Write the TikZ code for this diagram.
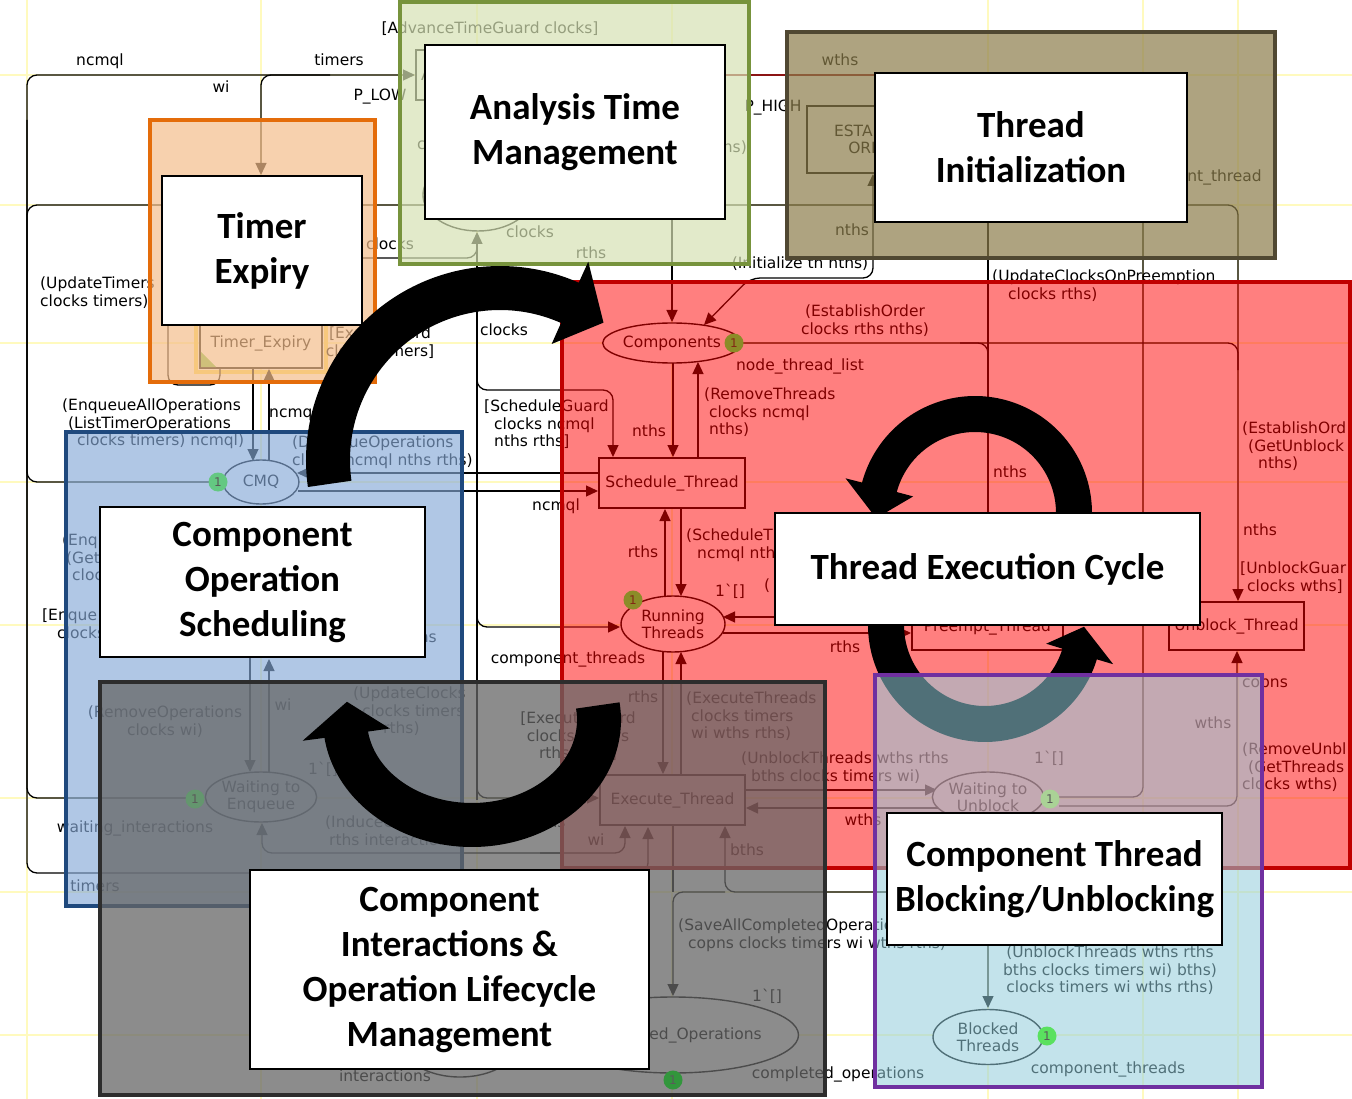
\documentclass[tikz,border=0pt]{standalone}
\usepackage{fontspec}
\usetikzlibrary{shapes.geometric,arrows.meta}
\newfontfamily\netfont{DejaVu Sans}
\newfontfamily\boxfont{Carlito}

\definecolor{gridY}{RGB}{255,250,190}
\definecolor{pRed}{RGB}{255,0,0}
\definecolor{bRed}{RGB}{192,0,0}
\definecolor{pBlue}{RGB}{135,170,216}
\definecolor{bBlue}{RGB}{31,73,125}
\definecolor{pOrange}{RGB}{245,190,140}
\definecolor{bOrange}{RGB}{228,108,10}
\definecolor{pGreen}{RGB}{214,226,180}
\definecolor{bGreen}{RGB}{119,147,60}
\definecolor{pOlive}{RGB}{140,125,75}
\definecolor{bOlive}{RGB}{80,72,50}
\definecolor{pGray}{RGB}{102,102,102}
\definecolor{bGray}{RGB}{45,45,45}
\definecolor{pPurple}{RGB}{147,205,220}
\definecolor{bPurple}{RGB}{112,48,160}
\definecolor{darkRed}{RGB}{140,20,20}
\definecolor{hiYellow}{RGB}{255,225,90}
\definecolor{enGreen}{RGB}{120,200,80}
\definecolor{tokOlive}{RGB}{140,140,40}
\definecolor{tokCMQ}{RGB}{100,200,130}
\definecolor{tokWTE}{RGB}{100,150,110}
\definecolor{tokWTU}{RGB}{170,210,150}
\definecolor{tokBT}{RGB}{90,225,95}
\definecolor{tokCO}{RGB}{50,150,60}
\definecolor{tokTxt}{RGB}{90,90,90}
\definecolor{tokTxtR}{RGB}{130,40,20}

% #1 cx, #2 cy, #3 rx, #4 ry, #5 half thickness, #6 start angle, #7 end angle, #8 head half width, #9 tip angle offset
\newcommand{\bigarc}[9]{%
  \fill[black] plot[domain=0:1,samples=90] ({#1+(#3+#5)*cos((#6)+\x*((#7)-(#6)))},{#2+(#4+#5)*sin((#6)+\x*((#7)-(#6)))})
    -- ({#1+(#3+#8)*cos(#7)},{#2+(#4+#8)*sin(#7)})
    -- ({#1+(#3)*cos((#7)+(#9))},{#2+(#4)*sin((#7)+(#9))})
    -- ({#1+(#3-#8)*cos(#7)},{#2+(#4-#8)*sin(#7)})
    -- plot[domain=0:1,samples=90] ({#1+(#3-#5)*cos((#7)+\x*((#6)-(#7)))},{#2+(#4-#5)*sin((#7)+\x*((#6)-(#7)))})
    -- cycle;}

\begin{document}
\begin{tikzpicture}[x=1pt,y=-1pt,
  lab/.style={font=\netfont\fontsize{15.5}{17.2}\selectfont, inner sep=0pt},
  l1/.style={lab, anchor=base},
  lw/.style={lab, anchor=base west},
  le/.style={lab, anchor=base east},
  ml/.style={lab, align=left, anchor=north west},
  mc/.style={lab, align=center, anchor=north},
  place/.style={ellipse, draw, fill=white, line width=1.4pt, inner sep=0pt, align=center, font=\netfont\fontsize{15.5}{17.2}\selectfont},
  trans/.style={rectangle, draw, fill=white, line width=1.4pt, inner sep=0pt, align=center, font=\netfont\fontsize{15.5}{17.2}\selectfont},
  token/.style={circle, inner sep=0pt, minimum size=19pt, font=\netfont\fontsize{12}{12}\selectfont},
  nl/.style={line width=1.3pt, rounded corners=10pt},
  na/.style={nl, -{Triangle[length=12pt,width=11pt]}},
  nab/.style={nl, {Triangle[length=12pt,width=11pt]}-{Triangle[length=12pt,width=11pt]}},
  region/.style={line width=3.5pt},
  bigbox/.style={draw=black, line width=2pt, fill=white, inner sep=0pt, align=center, font=\boxfont\bfseries\fontsize{37}{45}\selectfont},
]
\useasboundingbox (0,0) rectangle (1352,1099);
\fill[white] (0,0) rectangle (1352,1099);

% faint grid
\foreach \gx in {27,261,477,672,988,1143,1238} \draw[gridY, line width=1.2pt] (\gx,0) -- (\gx,1099);
\foreach \gy in {75,205,343,482,625,798,892,1035} \draw[gridY, line width=1.2pt] (0,\gy) -- (1352,\gy);

% enabled highlight of Timer_Expiry
\draw[hiYellow, line width=4pt] (196,314) rectangle (326,372);

% ---------- connectors ----------
\draw[na] (209,482) -- (27,482) -- (27,75) -- (415,75);
\draw[na] (330,75) -- (261,75) -- (261,175);
\draw[nl] (875,205) -- (27,205) -- (27,798) -- (186,798);
\draw[na] (27,120) -- (27,873) -- (648,873) -- (648,827);
\draw[nl, darkRed] (725,75) -- (875,75);
\draw[na] (477,800) -- (477,232);
\draw[na] (477,360) -- (477,390) -- (613,390) -- (613,457);
\draw[na] (477,600) -- (477,627) -- (620,627);
\draw[na] (477,770) -- (477,798) -- (599,798);
\draw[nl] (477,240) -- (477,258) -- (330,258);
\draw[na] (598,473) -- (297,473);
\draw[na] (298,491) -- (598,491);
\draw[na] (253,369) -- (253,461);
\draw[na] (269,461) -- (269,369);
\draw[na] (673,363) -- (673,457);
\draw[na] (698,458) -- (698,362);
\draw[na] (672,219) -- (672,322);
\draw[nab] (873,174) -- (873,278) -- (750,278) -- (704,325);
\draw[nl] (742,343) -- (1238,343) -- (1238,370);
\draw[na] (1150,205) -- (1238,205) -- (1238,601);
\draw[na] (988,222) -- (988,604);
\draw[nl] (960,343) -- (988,343) -- (988,370);
\draw[nl] (1143,222) -- (1143,797) -- (1059,797);
\draw[na] (1059,806) -- (1237,806) -- (1237,651);
\draw[na] (681,508) -- (681,596);
\draw[na] (665,597) -- (665,509);
\draw[na] (663,652) -- (663,774);
\draw[na] (681,775) -- (681,652);
\draw[na] (911,617) -- (723,617);
\draw[na] (723,633) -- (911,633);
\draw[na] (746,790) -- (937,790);
\draw[na] (940,808) -- (746,808);
\draw[na] (560,853) -- (262,853) -- (262,823);
\draw[na] (540,853) -- (625,853) -- (625,826);
\draw[na] (880,892) -- (725,892) -- (725,826);
\draw[na] (725,892) -- (673,892) -- (673,996);
\draw[nl] (673,825) -- (673,892);
\draw[na] (880,892) -- (988,892) -- (988,1008);
\draw[na] (250,658) -- (250,772);
\draw[na] (269,772) -- (269,659);
\draw[nl] (168,320) -- (168,385) -- (220,385) -- (220,369);

% ---------- places ----------
\node[place, minimum width=112pt, minimum height=40pt] (comp) at (672,343) {Components};
\node[place, minimum width=76pt, minimum height=44pt] (cmq) at (261,482) {CMQ};
\node[place, minimum width=104pt, minimum height=56pt] (run) at (673,624) {Running\\Threads};
\node[place, minimum width=104pt, minimum height=50pt] (wte) at (261,797) {Waiting to\\Enqueue};
\node[place, minimum width=104pt, minimum height=50pt] (wtu) at (988,797) {Waiting to\\Unblock};
\node[place, minimum width=110pt, minimum height=55pt] (blk) at (988,1037) {Blocked\\Threads};
\node[place, minimum width=204pt, minimum height=76pt] (cop) at (673,1035) {Completed\_Operations};
\node[place, minimum width=120pt, minimum height=74pt] (inter) at (460,1040) {};
\node[place, minimum width=110pt, minimum height=72pt] (clk) at (478,195) {};

% ---------- transitions ----------
\node[trans, minimum width=146pt, minimum height=50pt] (sch) at (672,483) {Schedule\_Thread};
\node[trans, minimum width=145pt, minimum height=50pt] (exe) at (672.5,800) {Execute\_Thread};
\node[trans, minimum width=151pt, minimum height=45pt] (pre) at (987.5,627.5) {Preempt\_Thread};
\node[trans, minimum width=135pt, minimum height=48pt] (unb) at (1236.5,626) {Unblock\_Thread};
\node[trans, minimum width=122pt, minimum height=50pt] (tex) at (261,343) {Timer\_Expiry};
\node[trans, minimum width=138pt, minimum height=67pt] (est) at (876,139.5) {ESTABLISH\\ORDER};
\node[trans, minimum width=144pt, minimum height=50pt] (adv) at (488,75) {};
\fill[enGreen] (201,367) -- (216,367) -- (201,352) -- cycle;

% ---------- inscriptions ----------
\node[l1] (t1) at (100,66) {ncmql};
\node[l1] (t2) at (339,66) {timers};
\node[l1] (t3) at (221,93) {wi};
\node[l1] (t4) at (380,101) {P\_LOW};
\node[l1] (t5) at (490,34) {[AdvanceTimeGuard clocks]};
\node[lw] (t6) at (421,81) {AdvanceTime};
\node[lw] (t7) at (417,150) {clocks};
\node[le] (t8) at (747,153) {rths)};
\node[l1] (t9) at (390,250) {clocks};
\node[l1] (t10) at (530,238) {clocks};
\node[l1] (t11) at (591,259) {rths};
\node[l1] (t12) at (773,112) {P\_HIGH};
\node[l1] (t13) at (840,66) {wths};
\node[l1] (t14) at (852,236) {nths};
\node[le] (t15) at (1262,182) {nt\_thread};
\node[l1] (t16) at (800,269) {(Initialize th nths)};
\node[ml] (t17) at (40,277) {(UpdateTimers\\clocks timers)};
\node[mc] (t18) at (380,327) {[ExpireGuard\\clocks timers]};
\node[ml] (t19) at (992,270) {(UpdateClocksOnPreemption\\\hspace*{16pt}clocks rths)};
\node[mc] (t20) at (865,305) {(EstablishOrder\\clocks rths nths)};
\node[l1] (t21) at (800,370) {node\_thread\_list};
\node[ml] (t22) at (704,388) {(RemoveThreads\\\hspace*{5pt}clocks ncmql\\\hspace*{5pt}nths)};
\node[l1] (t23) at (649,436) {nths};
\node[ml] (t24) at (484,400) {[ScheduleGuard\\\hspace*{10pt}clocks ncmql\\\hspace*{10pt}nths rths]};
\node[l1] (t25) at (504,335) {clocks};
\node[l1] (t26) at (556,510) {ncmql};
\node[l1] (t27) at (643,557) {rths};
\node[ml] (t28) at (686,529) {(ScheduleT\\\hspace*{11pt}ncmql nths};
\node[l1] (t29) at (730,596) {1ˋ[]};
\node[lw] (t30) at (764,590) {(};
\node[l1] (t31) at (568,663) {component\_threads};
\node[l1] (t32) at (845,652) {rths};
\node[l1] (t33) at (643,702) {rths};
\node[ml] (t34) at (686,692) {(ExecuteThreads\\\hspace*{5pt}clocks timers\\\hspace*{5pt}wi wths rths)};
\node[mc] (t35) at (578,712) {[ExecuteGuard\\clocks timers\\rths wths]};
\node[ml] (t36) at (741,752) {(UnblockThreads wths rths\\\hspace*{10pt}bths clocks timers wi)};
\node[l1] (t37) at (1049,763) {1ˋ[]};
\node[l1] (t38) at (863,825) {wths};
\node[l1] (t39) at (747,855) {bths};
\node[l1] (t40) at (596,845) {wi};
\node[l1] (t41) at (1010,477) {nths};
\node[ml] (t42) at (1242,422) {(EstablishOrd\\\hspace*{6pt}(GetUnblock\\\hspace*{16pt}nths)};
\node[l1] (t43) at (1260,535) {nths};
\node[ml] (t44) at (1240,562) {[UnblockGuar\\\hspace*{7pt}clocks wths]};
\node[l1] (t45) at (1265,687) {copns};
\node[l1] (t46) at (1213,728) {wths};
\node[ml] (t47) at (1242,743) {(RemoveUnbl\\\hspace*{6pt}(GetThreads\\clocks wths)};
\node[ml] (t48) at (62,399) {(EnqueueAllOperations\\\hspace*{6pt}(ListTimerOperations\\\hspace*{15pt}clocks timers) ncmql)};
\node[l1] (t49) at (293,417) {ncmql};
\node[ml] (t50) at (292,436) {(DequeueOperations\\clocks ncmql nths rths)};
\node[ml] (t51) at (62,534) {(Enq\\\hspace*{4pt}(Get\\\hspace*{10pt}cloc};
\node[ml] (t52) at (42,609) {[Enque\\\hspace*{15pt}clocks};
\node[le] (t53) at (437,642) {rths};
\node[mc] (t54) at (165,706) {(RemoveOperations\\clocks wi)};
\node[l1] (t55) at (283,710) {wi};
\node[l1] (t56) at (323,774) {1ˋ[]};
\node[ml] (t57) at (353,687) {(UpdateClocks\\\hspace*{9pt}clocks timers\\\hspace*{30pt}rths)};
\node[l1] (t58) at (135,832) {waiting\_interactions};
\node[ml] (t59) at (325,816) {(InduceComponentInteractions\\\hspace*{4pt}rths interactions)};
\node[l1] (t60) at (95,891) {timers};
\node[l1] (t61) at (385,1081) {interactions};
\node[ml] (t62) at (678,919) {(SaveAllCompletedOperations\\\hspace*{10pt}copns clocks timers wi wths rths)};
\node[l1] (t63) at (767,1001) {1ˋ[]};
\node[l1] (t64) at (838,1078) {completed\_operations};
\node[l1] (t65) at (1108,1073) {component\_threads};
\node[mc] (t66) at (1110,946) {(UnblockThreads wths rths\\bths clocks timers wi) bths)\\clocks timers wi wths rths)};

% ---------- coloured regions ----------
\filldraw[region, fill=pRed, fill opacity=0.5, draw=bRed] (562,282) rectangle (1350,868);
\filldraw[region, fill=pBlue, fill opacity=0.65, draw=bBlue] (66,432) rectangle (462,906);
\filldraw[region, fill=pOrange, fill opacity=0.7, draw=bOrange] (150,120) rectangle (375,382);
\filldraw[region, fill=pGreen, fill opacity=0.7, draw=bGreen] (400,2) rectangle (749,264);
\filldraw[region, line width=4pt, fill=pOlive, fill opacity=0.7, draw=bOlive] (787,32) rectangle (1275,258);
\filldraw[region, line width=4pt, fill=pGray, fill opacity=0.75, draw=bGray] (100,682) rectangle (825,1095);

% ---------- big cycle arrows ----------
\bigarc{500}{460}{172}{172}{22}{172}{294}{45}{13}
\bigarc{472}{720}{127}{105}{22}{-8}{172}{44}{18}
\bigarc{975}{513}{99}{99}{18}{10}{-165}{35}{-18}
\bigarc{985}{625}{99}{99}{18}{185}{17}{35}{-16}

\filldraw[region, fill=pPurple, fill opacity=0.55, draw=bPurple] (875,675) rectangle (1262,1087);

% ---------- tokens ----------
\node[token, fill=tokOlive, text=tokTxtR] (k1) at (734,343) {1};
\node[token, fill=tokOlive, text=tokTxtR] (k2) at (633,600) {1};
\node[token, fill=tokCMQ, text=tokTxt] (k3) at (218,482) {1};
\node[token, fill=tokWTE, text=tokTxt] (k4) at (195,799) {1};
\node[token, fill=tokWTU, text=tokTxt] (k5) at (1050,799) {1};
\node[token, fill=tokBT, text=tokTxt] (k6) at (1047,1036) {1};
\node[token, fill=tokCO, text=tokTxt] (k7) at (673,1080) {1};

% ---------- label boxes ----------
\node[bigbox, minimum width=200pt, minimum height=149pt] (bTE) at (262,250.5) {Timer\\Expiry};
\node[bigbox, minimum width=300pt, minimum height=174pt] (bATM) at (575,132) {Analysis Time\\Management};
\node[bigbox, minimum width=312pt, minimum height=149pt] (bTI) at (1031,147.5) {Thread\\Initialization};
\node[bigbox, minimum width=325pt, minimum height=150pt] (bCOS) at (262.5,582) {Component\\Operation\\Scheduling};
\node[bigbox, minimum width=425pt, minimum height=112pt] (bTEC) at (987.5,569) {Thread Execution Cycle};
\node[bigbox, minimum width=335pt, minimum height=132pt] (bCTB) at (1054.5,879) {Component Thread\\Blocking/Unblocking};
\node[bigbox, minimum width=399pt, minimum height=199pt] (bCI) at (449.5,969.5) {Component\\Interactions \&\\Operation Lifecycle\\Management};
\end{tikzpicture}
\end{document}
